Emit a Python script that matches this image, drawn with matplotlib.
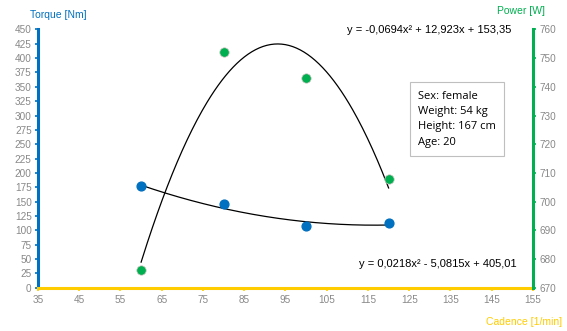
import numpy as np
import matplotlib.pyplot as plt

cadence = [60, 80, 100, 120]
torque = [177, 146, 108, 112]
power = [676, 752, 743, 708]

torque_fit = [0.0218, -5.0815, 405.01]
power_fit = [-0.0694, 12.923, 153.35]

blue = '#0070C0'
green = '#00B050'
yellow = '#FFCC00'
grey = '#888888'

plt.rcParams['font.family'] = ['Liberation Sans', 'DejaVu Sans']

fig = plt.figure(figsize=(5.67, 3.31), dpi=100)
ax = fig.add_axes([0.067, 0.131, 0.873, 0.78])
ax2 = ax.twinx()

xs = np.linspace(60, 120, 200)
ax.plot(xs, np.polyval(torque_fit, xs), color='black', lw=0.9, zorder=2)
ax.scatter(cadence, torque, s=40, color=blue, zorder=3)
ax2.plot(xs, np.polyval(power_fit, xs), color='black', lw=0.9, zorder=2)
ax2.scatter(cadence, power, s=46, color=green, edgecolor='#D8C8C8', linewidth=0.5, zorder=3)

ax.set_xlim(35, 155)
ax.set_ylim(0, 450)
ax2.set_ylim(670, 760)
ax.set_xticks(np.arange(35, 156, 10))
ax.set_yticks(np.arange(0, 451, 25))
ax2.set_yticks(np.arange(670, 761, 10))

for a in (ax, ax2):
    a.spines['top'].set_visible(False)
    a.tick_params(labelsize=7.2, labelcolor=grey, length=2.5, width=1.2)
ax.spines['left'].set_color(blue)
ax.spines['left'].set_linewidth(2.2)
ax.spines['bottom'].set_color(yellow)
ax.spines['bottom'].set_linewidth(2.2)
ax.spines['right'].set_visible(False)
ax2.spines['left'].set_visible(False)
ax2.spines['bottom'].set_visible(False)
ax2.spines['right'].set_color(green)
ax2.spines['right'].set_linewidth(2.2)
ax.tick_params(axis='y', colors=blue, labelcolor=grey, pad=2)
ax.tick_params(axis='x', colors=yellow, labelcolor=grey, pad=3)
ax2.tick_params(axis='y', colors=green, labelcolor=grey, pad=2)

fig.text(0.053, 0.955, 'Torque [Nm]', color=blue, fontsize=7.5, ha='left', va='center')
fig.text(0.962, 0.968, 'Power [W]', color=green, fontsize=7.5, ha='right', va='center')
fig.text(0.992, 0.028, 'Cadence [1/min]', color=yellow, fontsize=7.5, ha='right', va='center')

fig.text(0.612, 0.908, 'y = -0,0694x² + 12,923x + 153,35', fontsize=8, ha='left', va='center')
fig.text(0.634, 0.203, 'y = 0,0218x² - 5,0815x + 405,01', fontsize=8, ha='left', va='center')

fig.text(0.737, 0.64, 'Sex: female\nWeight: 54 kg\nHeight: 167 cm\nAge: 20',
         fontsize=8, family=['Open Sans', 'DejaVu Sans'], ha='left', va='center', linespacing=1.55,
         bbox=dict(boxstyle='square,pad=0.75', facecolor='white', edgecolor='#BFBFBF', lw=0.8))

fig.savefig('out.png', dpi=100)
